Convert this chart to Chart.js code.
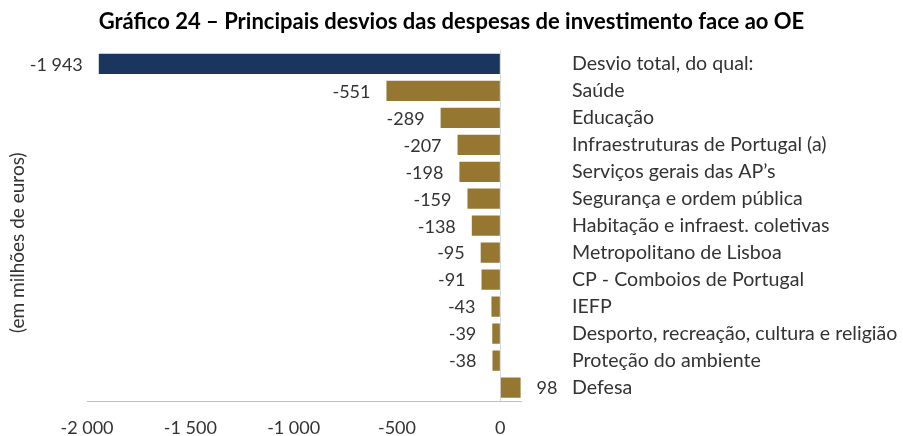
<!DOCTYPE html>
<html>
<head>
<meta charset="utf-8">
<script src="https://cdn.jsdelivr.net/npm/chart.js@4/dist/chart.umd.min.js"></script>
<style>
  html, body { margin: 0; padding: 0; background: #fff; }
  #wrap { width: 903px; height: 436px; }
</style>
</head>
<body>
<div id="wrap"><canvas id="myChart" width="903" height="436"></canvas></div>
<script>
// data
const categories = [
  'Desvio total, do qual:',
  'Saúde',
  'Educação',
  'Infraestruturas de Portugal (a)',
  'Serviços gerais das AP’s',
  'Segurança e ordem pública',
  'Habitação e infraest. coletivas',
  'Metropolitano de Lisboa',
  'CP - Comboios de Portugal',
  'IEFP',
  'Desporto, recreação, cultura e religião',
  'Proteção do ambiente',
  'Defesa'
];
const desvios = [-1943, -551, -289, -207, -198, -159, -138, -95, -91, -43, -39, -38, 98];
const xTicks = [-2000, -1500, -1000, -500, 0];

const navy = '#1a365f';
const gold = '#967732';
const textColor = '#333333';
const fontName = "Lato, 'Open Sans', sans-serif";

// "-1943" -> "-1 943"
function fmt(v) {
  const s = String(Math.abs(v)).replace(/\B(?=(\d{3})+(?!\d))/g, ' ');
  return (v < 0 ? '-' : '') + s;
}

// value labels outside the bar end
const valueLabels = {
  id: 'valueLabels',
  afterDatasetsDraw(chart) {
    const ctx = chart.ctx;
    const meta = chart.getDatasetMeta(0);
    ctx.save();
    ctx.font = '18px ' + fontName;
    ctx.fillStyle = textColor;
    ctx.textBaseline = 'middle';
    meta.data.forEach((bar, i) => {
      const v = chart.data.datasets[0].data[i];
      if (v < 0) {
        ctx.textAlign = 'right';
        ctx.fillText(fmt(v), bar.x - 16, bar.y + 1);
      } else {
        ctx.textAlign = 'left';
        ctx.fillText(fmt(v), bar.x + 16, bar.y + 1);
      }
    });
    ctx.restore();
  }
};

const data = {
  labels: categories,
  datasets: [{
    data: desvios,
    backgroundColor: desvios.map((v, i) => i === 0 ? navy : gold),
    borderWidth: 0,
    categoryPercentage: 1,
    barPercentage: 0.75
  }]
};

const config = {
  type: 'bar',
  data,
  plugins: [valueLabels],
  options: {
    indexAxis: 'y',
    responsive: false,
    animation: false,
    layout: { padding: 0 },
    scales: {
      x: {
        min: -2000,
        max: 100,
        afterBuildTicks: (axis) => {
          axis.ticks = xTicks.map(v => ({ value: v }));
        },
        afterFit: (axis) => {
          axis.height = 35;
          axis.paddingLeft = 0;
          axis.paddingRight = 0;
        },
        ticks: {
          padding: 16,
          color: textColor,
          font: { family: fontName, size: 18 },
          callback: (v) => fmt(v)
        },
        grid: {
          drawTicks: false,
          color: (c) => (c.tick && c.tick.value === 0) ? '#d9d9d9' : 'rgba(0,0,0,0)'
        },
        border: { display: true, color: '#bfbfbf', width: 1 }
      },
      y: {
        position: 'right',
        afterFit: (axis) => {
          axis.width = 382;
          axis.paddingTop = 0;
          axis.paddingBottom = 0;
        },
        ticks: {
          padding: 51,
          color: textColor,
          font: { family: fontName, size: 19.6 }
        },
        grid: { display: false, drawTicks: false, tickLength: 0 },
        border: { display: false }
      },
      yTitle: {
        type: 'linear',
        position: 'left',
        afterFit: (axis) => {
          axis.width = 87;
          axis.paddingTop = 0;
          axis.paddingBottom = 0;
        },
        ticks: { display: false },
        grid: { display: false },
        border: { display: false },
        title: {
          display: true,
          // trailing spaces push the rotated text a little lower, as in the original
          text: '(em milhões de euros)\u00a0\u00a0\u00a0\u00a0\u00a0\u00a0\u00a0',
          color: textColor,
          font: { family: fontName, size: 19 },
          padding: { top: 6, bottom: 0 }
        }
      }
    },
    plugins: {
      legend: { display: false },
      tooltip: { enabled: false },
      title: {
        display: true,
        text: 'Gráfico 24 – Principais desvios das despesas de investimento face ao OE',
        color: '#000000',
        font: { family: fontName, size: 22, weight: 'bold' },
        padding: { top: 9, bottom: 15 }
      }
    }
  }
};

const myChart = new Chart(
  document.getElementById('myChart'),
  config
);
</script>
</body>
</html>
